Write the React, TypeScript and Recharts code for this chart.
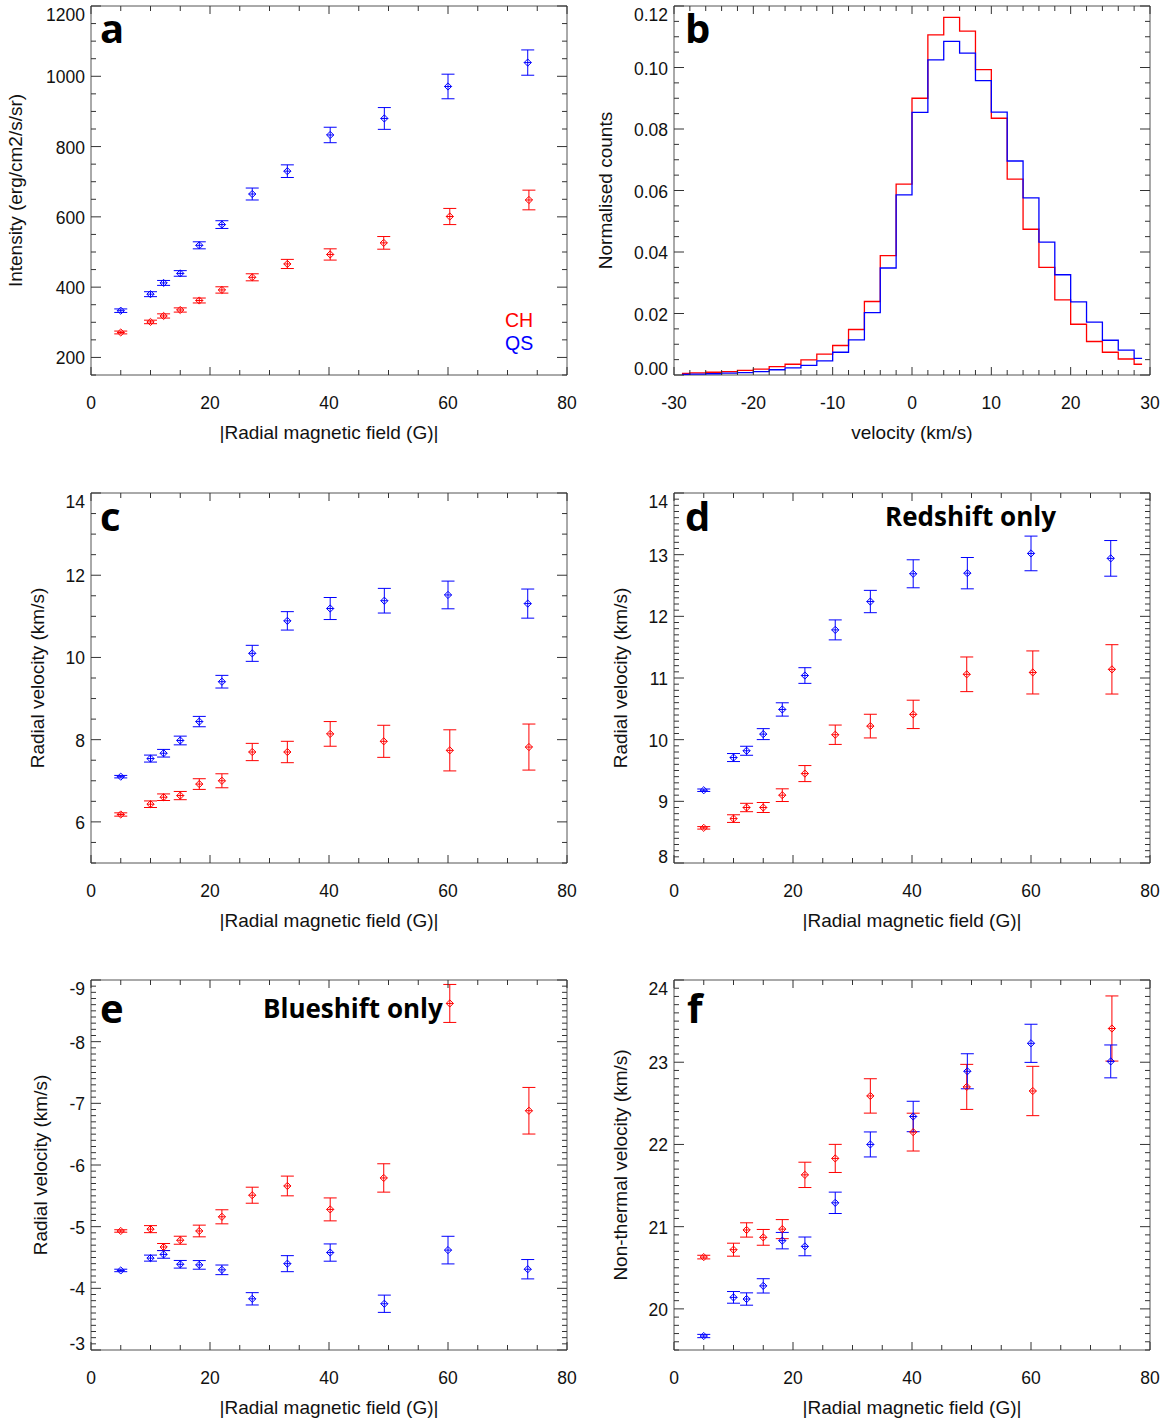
import React from 'react';
import { ScatterChart, Scatter, XAxis, YAxis, ErrorBar, LineChart, Line, ReferenceArea } from 'recharts';

// |B| bin means (G), slightly different for each region
const FIELD_CH = [5.0, 10.0, 12.2, 15.0, 18.2, 22.0, 27.1, 33.0, 40.2, 49.2, 60.3, 73.6];
const FIELD_QS = [5.0, 10.0, 12.2, 15.0, 18.2, 22.0, 27.1, 33.0, 40.2, 49.3, 60.0, 73.4];

// a: intensity
const INT_CH = [271, 301, 318, 335, 362, 392, 428, 466, 493, 526, 601, 648];
const INT_CH_ERR = [4, 5, 6, 6, 7, 9, 10, 13, 16, 18, 23, 28];
const INT_QS = [333, 380, 412, 439, 519, 578, 665, 730, 833, 880, 971, 1039];
const INT_QS_ERR = [5, 7, 7, 8, 10, 11, 17, 18, 22, 31, 35, 36];

// b: velocity histogram (bin centres, km/s)
const VEL_BINS = [-29, -27, -25, -23, -21, -19, -17, -15, -13, -11, -9, -7, -5, -3, -1, 1, 3, 5, 7, 9, 11, 13, 15, 17, 19, 21, 23, 25, 27, 29];
const HIST_CH = [0.0005, 0.0007, 0.0009, 0.0011, 0.0015, 0.0019, 0.0027, 0.0035, 0.0049, 0.0068, 0.0096, 0.0148, 0.0239, 0.0388, 0.0621, 0.09, 0.1106, 0.1163, 0.1118, 0.0993, 0.0835, 0.0637, 0.0474, 0.035, 0.0244, 0.0165, 0.0109, 0.0074, 0.0052, 0.0035];
const HIST_QS = [0.0002, 0.0003, 0.0004, 0.0006, 0.0008, 0.0011, 0.0017, 0.0023, 0.0031, 0.0046, 0.0074, 0.0114, 0.0203, 0.0348, 0.0586, 0.0854, 0.1025, 0.1085, 0.1047, 0.0957, 0.0855, 0.0696, 0.0576, 0.0432, 0.0326, 0.0238, 0.0172, 0.0113, 0.0081, 0.0054];

// c: radial velocity, all pixels
const VR_CH = [6.18, 6.43, 6.6, 6.64, 6.92, 7.0, 7.7, 7.7, 8.14, 7.96, 7.74, 7.82];
const VR_CH_ERR = [0.04, 0.08, 0.08, 0.1, 0.13, 0.17, 0.21, 0.26, 0.3, 0.39, 0.5, 0.56];
const VR_QS = [7.1, 7.54, 7.67, 7.98, 8.44, 9.41, 10.1, 10.89, 11.19, 11.38, 11.52, 11.31];
const VR_QS_ERR = [0.03, 0.085, 0.093, 0.106, 0.126, 0.154, 0.195, 0.224, 0.268, 0.3, 0.337, 0.354];

// d: redshift only
const RED_CH = [8.57, 8.72, 8.9, 8.9, 9.1, 9.45, 10.08, 10.22, 10.41, 11.06, 11.09, 11.14];
const RED_CH_ERR = [0.02, 0.062, 0.068, 0.081, 0.103, 0.13, 0.157, 0.192, 0.23, 0.281, 0.349, 0.4];
const RED_QS = [9.18, 9.71, 9.82, 10.09, 10.49, 11.04, 11.78, 12.24, 12.69, 12.7, 13.02, 12.94];
const RED_QS_ERR = [0.02, 0.065, 0.073, 0.089, 0.108, 0.127, 0.162, 0.181, 0.227, 0.254, 0.281, 0.289];

// e: blueshift only
const BLUE_CH = [-4.93, -4.96, -4.67, -4.78, -4.93, -5.16, -5.51, -5.66, -5.28, -5.79, -8.62, -6.88];
const BLUE_CH_ERR = [0.02, 0.057, 0.057, 0.065, 0.095, 0.114, 0.13, 0.16, 0.186, 0.23, 0.308, 0.378];
const BLUE_QS = [-4.29, -4.49, -4.55, -4.39, -4.38, -4.3, -3.83, -4.4, -4.58, -3.75, -4.62, -4.31];
const BLUE_QS_ERR = [0.02, 0.049, 0.062, 0.062, 0.07, 0.078, 0.1, 0.13, 0.14, 0.14, 0.224, 0.157];

// f: non-thermal velocity
const NT_CH = [20.63, 20.72, 20.96, 20.87, 20.97, 21.63, 21.83, 22.59, 22.15, 22.7, 22.65, 23.41];
const NT_CH_ERR = [0.022, 0.079, 0.087, 0.096, 0.116, 0.154, 0.171, 0.209, 0.23, 0.274, 0.3, 0.396];
const NT_QS = [19.67, 20.14, 20.12, 20.28, 20.83, 20.76, 21.29, 22.0, 22.34, 22.89, 23.23, 23.01];
const NT_QS_ERR = [0.02, 0.071, 0.075, 0.087, 0.1, 0.114, 0.13, 0.152, 0.185, 0.213, 0.232, 0.2];

// tick labels
const FIELD_MAJOR = [0, 20, 40, 60, 80];
const VEL_MAJOR = [-30, -20, -10, 0, 10, 20, 30];
const INT_MAJOR = [200, 400, 600, 800, 1000, 1200];
const HIST_MAJOR = [0, 0.02, 0.04, 0.06, 0.08, 0.1, 0.12];
const VR_MAJOR = [6, 8, 10, 12, 14];
const RED_MAJOR = [8, 9, 10, 11, 12, 13, 14];
const BLUE_MAJOR = [-9, -8, -7, -6, -5, -4, -3];
const NT_MAJOR = [20, 21, 22, 23, 24];

const RED = '#ff0000';
const BLUE = '#0000ff';
const TICK = '#333';
const SANS = '"Liberation Sans", Arial, sans-serif';
const BOLD = '"Open Sans", "DejaVu Sans", sans-serif';

const range = (a: number, b: number, step: number) => {
  const out: number[] = [];
  const n = Math.round((b - a) / step);
  for (let i = 0; i <= n; i++) out.push(Math.round((a + i * step) * 10000) / 10000);
  return out;
};
const isMajor = (v: number, list: number[]) => list.some((m) => Math.abs(m - v) < 1e-6);

const rows = (x: number[], y: number[], err: number[]) => x.map((xv, i) => ({ x: xv, y: y[i], err: err[i] }));

const PAD_L = 90; // y-axis box width
const PAD_T = 10;
const PW = 476;

function Diamond({ cx, cy, color }: { cx: number; cy: number; color: string }) {
  const r = 3.6;
  return (
    <g stroke={color} strokeWidth={1} fill="none">
      <path d={`M${cx},${cy - r}L${cx + r},${cy}L${cx},${cy + r}L${cx - r},${cy}Z`} />
      <line x1={cx - r} x2={cx + r} y1={cy} y2={cy} />
    </g>
  );
}

function XTick(props: any) {
  const { x, y, payload, major, plotH } = props;
  const big = isMajor(payload.value, major);
  const len = big ? 8 : 5;
  return (
    <g>
      <line x1={x} x2={x} y1={y} y2={y - len} stroke={TICK} />
      <line x1={x} x2={x} y1={y - plotH} y2={y - plotH + len} stroke={TICK} />
      {big && (
        <text x={x} y={y + 28} textAnchor="middle" dominantBaseline="central" fontSize={17.5} fontFamily={SANS} fill="#111">
          {payload.value}
        </text>
      )}
    </g>
  );
}

function YTick(props: any) {
  const { x, y, payload, major, plotH, digits } = props;
  const big = isMajor(payload.value, major);
  const len = big ? 10 : 5;
  let dy = 1;
  if (Math.abs(y - PAD_T) < 2) dy = 9;
  else if (Math.abs(y - (PAD_T + plotH)) < 2) dy = -6;
  return (
    <g>
      <line x1={x} x2={x + len} y1={y} y2={y} stroke={TICK} />
      <line x1={x + PW} x2={x + PW - len} y1={y} y2={y} stroke={TICK} />
      {big && (
        <text x={x - 6} y={y + dy} textAnchor="end" dominantBaseline="central" fontSize={17.5} fontFamily={SANS} fill="#111">
          {payload.value.toFixed(digits)}
        </text>
      )}
    </g>
  );
}

const xTitle = (text: string) => (p: any) => {
  const vb = p.viewBox;
  return (
    <text x={vb.x + vb.width / 2} y={vb.y + 57} textAnchor="middle" dominantBaseline="central" fontSize={19} fontFamily={SANS} fill="#111">
      {text}
    </text>
  );
};

const yTitle = (text: string, dx: number) => (p: any) => {
  const vb = p.viewBox;
  const cx = vb.x + vb.width - dx;
  const cy = vb.y + vb.height / 2;
  return (
    <text x={cx} y={cy} transform={`rotate(-90 ${cx} ${cy})`} textAnchor="middle" dominantBaseline="central" fontSize={19} fontFamily={SANS} fill="#111">
      {text}
    </text>
  );
};

type PanelProps = {
  left: number;
  top: number;
  h: number;
  yDomain: [number, number];
  yStep: number;
  yMajor: number[];
  digits?: number;
  reversed?: boolean;
  yLabel: string;
  yDx: number;
  series: { data: { x: number; y: number; err: number }[]; color: string }[];
};

function FieldPanel({ left, top, h, yDomain, yStep, yMajor, digits = 0, reversed, yLabel, yDx, series }: PanelProps) {
  return (
    <div style={{ position: 'absolute', left: left - PAD_L, top: top - PAD_T }}>
      <ScatterChart width={PAD_L + PW + 20} height={PAD_T + h + 70} margin={{ top: PAD_T, right: 20, bottom: 0, left: 0 }}>
        <XAxis
          type="number"
          dataKey="x"
          domain={[0, 80]}
          allowDataOverflow
          ticks={range(0, 80, 5)}
          interval={0}
          height={70}
          tickSize={0}
          tickMargin={0}
          axisLine={false}
          tickLine={false}
          tick={(p: any) => <XTick {...p} major={FIELD_MAJOR} plotH={h} />}
          label={xTitle('|Radial magnetic field (G)|')}
        />
        <YAxis
          type="number"
          dataKey="y"
          domain={yDomain}
          allowDataOverflow
          reversed={reversed}
          ticks={range(yDomain[0], yDomain[1], yStep)}
          interval={0}
          width={PAD_L}
          tickSize={0}
          tickMargin={0}
          axisLine={false}
          tickLine={false}
          tick={(p: any) => <YTick {...p} major={yMajor} plotH={h} digits={digits} />}
          label={yTitle(yLabel, yDx)}
        />
        <ReferenceArea x1={0} x2={80} y1={yDomain[0]} y2={yDomain[1]} fill="none" stroke="#555" strokeWidth={1} />
        {series.map((s, i) => (
          <Scatter
            key={i}
            data={s.data}
            isAnimationActive={false}
            shape={(p: any) => <Diamond cx={p.cx} cy={p.cy} color={s.color} />}
          >
            <ErrorBar dataKey="err" direction="y" width={6.5} stroke={s.color} strokeWidth={1} isAnimationActive={false} />
          </Scatter>
        ))}
      </ScatterChart>
    </div>
  );
}

function HistPanel({ left, top, h }: { left: number; top: number; h: number }) {
  const data = VEL_BINS.map((v, i) => ({ v, ch: HIST_CH[i], qs: HIST_QS[i] }));
  return (
    <div style={{ position: 'absolute', left: left - PAD_L, top: top - PAD_T }}>
      <LineChart width={PAD_L + PW + 20} height={PAD_T + h + 70} data={data} margin={{ top: PAD_T, right: 20, bottom: 0, left: 0 }}>
        <XAxis
          type="number"
          dataKey="v"
          domain={[-30, 30]}
          allowDataOverflow
          ticks={range(-30, 30, 2)}
          interval={0}
          height={70}
          tickSize={0}
          tickMargin={0}
          axisLine={false}
          tickLine={false}
          tick={(p: any) => <XTick {...p} major={VEL_MAJOR} plotH={h} />}
          label={xTitle('velocity (km/s)')}
        />
        <YAxis
          type="number"
          domain={[0, 0.12]}
          allowDataOverflow
          ticks={range(0, 0.12, 0.005)}
          interval={0}
          width={PAD_L}
          tickSize={0}
          tickMargin={0}
          axisLine={false}
          tickLine={false}
          tick={(p: any) => <YTick {...p} major={HIST_MAJOR} plotH={h} digits={2} />}
          label={yTitle('Normalised counts', 69)}
        />
        <ReferenceArea x1={-30} x2={30} y1={0} y2={0.12} fill="none" stroke="#555" strokeWidth={1} />
        <Line type="step" dataKey="ch" stroke={RED} strokeWidth={1.3} dot={false} isAnimationActive={false} />
        <Line type="step" dataKey="qs" stroke={BLUE} strokeWidth={1.3} dot={false} isAnimationActive={false} />
      </LineChart>
    </div>
  );
}

export default function App() {
  const L1 = 91;
  const L2 = 674;
  return (
    <div style={{ position: 'absolute', left: 0, top: 0, width: 1169, height: 1422, background: '#fff' }}>
      <FieldPanel
        left={L1}
        top={6}
        h={369}
        yDomain={[150, 1200]}
        yStep={50}
        yMajor={INT_MAJOR}
        yLabel="Intensity (erg/cm2/s/sr)"
        yDx={76}
        series={[
          { data: rows(FIELD_CH, INT_CH, INT_CH_ERR), color: RED },
          { data: rows(FIELD_QS, INT_QS, INT_QS_ERR), color: BLUE },
        ]}
      />
      <HistPanel left={L2} top={6} h={369} />
      <FieldPanel
        left={L1}
        top={493}
        h={370}
        yDomain={[5, 14]}
        yStep={0.5}
        yMajor={VR_MAJOR}
        yLabel="Radial velocity (km/s)"
        yDx={54}
        series={[
          { data: rows(FIELD_CH, VR_CH, VR_CH_ERR), color: RED },
          { data: rows(FIELD_QS, VR_QS, VR_QS_ERR), color: BLUE },
        ]}
      />
      <FieldPanel
        left={L2}
        top={493}
        h={370}
        yDomain={[8, 14]}
        yStep={0.1}
        yMajor={RED_MAJOR}
        yLabel="Radial velocity (km/s)"
        yDx={54}
        series={[
          { data: rows(FIELD_CH, RED_CH, RED_CH_ERR), color: RED },
          { data: rows(FIELD_QS, RED_QS, RED_QS_ERR), color: BLUE },
        ]}
      />
      <FieldPanel
        left={L1}
        top={980}
        h={370}
        yDomain={[-9, -3]}
        yStep={0.1}
        yMajor={BLUE_MAJOR}
        reversed
        yLabel="Radial velocity (km/s)"
        yDx={51}
        series={[
          { data: rows(FIELD_CH, BLUE_CH, BLUE_CH_ERR), color: RED },
          { data: rows(FIELD_QS, BLUE_QS, BLUE_QS_ERR), color: BLUE },
        ]}
      />
      <FieldPanel
        left={L2}
        top={980}
        h={370}
        yDomain={[19.5, 24]}
        yStep={0.1}
        yMajor={NT_MAJOR}
        yLabel="Non-thermal velocity (km/s)"
        yDx={54}
        series={[
          { data: rows(FIELD_CH, NT_CH, NT_CH_ERR), color: RED },
          { data: rows(FIELD_QS, NT_QS, NT_QS_ERR), color: BLUE },
        ]}
      />
      <svg width={1169} height={1422} style={{ position: 'absolute', left: 0, top: 0, pointerEvents: 'none' }}>
        <g fontFamily={BOLD} fontWeight={700} fill="#000">
          <text x={L1 + 9} y={43} fontSize={40}>a</text>
          <text x={L2 + 11} y={43} fontSize={40}>b</text>
          <text x={L1 + 9} y={531} fontSize={40}>c</text>
          <text x={L2 + 11} y={531} fontSize={40}>d</text>
          <text x={L1 + 9} y={1023} fontSize={40}>e</text>
          <text x={L2 + 13} y={1023} fontSize={40}>f</text>
          <text x={885} y={526} fontSize={26}>Redshift only</text>
          <text x={263} y={1018} fontSize={26}>Blueshift only</text>
        </g>
        <text x={505} y={327} fontSize={19.5} fontFamily={SANS} fill={RED}>CH</text>
        <text x={505} y={350} fontSize={19.5} fontFamily={SANS} fill={BLUE}>QS</text>
      </svg>
    </div>
  );
}
